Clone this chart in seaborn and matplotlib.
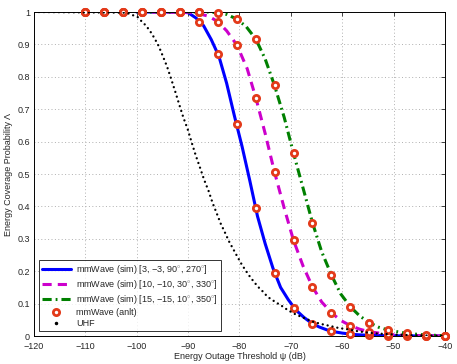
import matplotlib
matplotlib.use("Agg")
import matplotlib.pyplot as plt
import seaborn as sns
from matplotlib.lines import Line2D

# ---- data ----
blue_x = [-100, -92, -90, -88.5, -87, -85.5, -84, -82.5, -81, -79.5, -78, -76.5,
          -75, -73.5, -72, -70.5, -69, -67.5, -66, -64.5, -63, -61.5, -60, -58,
          -56, -53, -50, -45, -40]
blue_y = [1, 1, 0.998, 0.982, 0.958, 0.915, 0.863, 0.78, 0.68, 0.585, 0.48, 0.37,
          0.285, 0.21, 0.15, 0.112, 0.08, 0.058, 0.04, 0.028, 0.019, 0.013, 0.009, 0.005,
          0.003, 0.0015, 0.0007, 0.0002, 0]

mag_x = [-100, -90, -88, -86, -84.2, -82.5, -80.5, -78.5, -76.8, -75, -73.2, -71.3,
         -69.5, -67.6, -65.8, -64, -62.1, -60.3, -58.4, -56.6, -54.7, -51, -47.4,
         -43.7, -40]
mag_y = [1, 0.999, 0.995, 0.987, 0.97, 0.942, 0.898, 0.825, 0.734, 0.625, 0.507, 0.395,
         0.296, 0.215, 0.152, 0.105, 0.072, 0.048, 0.032, 0.021, 0.013, 0.005, 0.002,
         0.001, 0]

green_x = [-100, -86, -84.2, -82.4, -80.5, -78.7, -76.8, -75, -73.2, -71.3, -69.5,
           -67.6, -65.8, -64, -62.1, -60.3, -58.4, -56.6, -54.7, -52.9, -51, -47.4,
           -43.7, -40]
green_y = [1, 1, 0.998, 0.992, 0.978, 0.955, 0.916, 0.855, 0.774, 0.675, 0.565,
           0.455, 0.35, 0.26, 0.188, 0.13, 0.09, 0.062, 0.041, 0.027, 0.018, 0.008,
           0.003, 0.001]

anlt_x = [-110, -106.32, -102.63, -98.95, -95.26, -91.58, -87.89, -84.21, -80.53,
          -76.84, -73.16, -69.47, -65.79, -62.11, -58.42, -54.74, -51.05, -47.37,
          -43.68, -40]
anlt_blue = [1, 1, 1, 1, 1, 1, 0.97, 0.87, 0.655, 0.395, 0.195, 0.087, 0.037, 0.015,
             0.005, 0.002, 0.001, 0, 0, 0]
anlt_mag = [1, 1, 1, 1, 1, 1, 1.0, 0.97, 0.898, 0.734, 0.507, 0.296, 0.152, 0.072,
            0.032, 0.013, 0.005, 0.002, 0.001, 0]
anlt_green = [1, 1, 1, 1, 1, 1, 1.0, 0.998, 0.978, 0.916, 0.774, 0.565, 0.35, 0.188,
              0.09, 0.041, 0.018, 0.008, 0.003, 0.001]

uhf_x = [-120, -102, -100.73, -99.8, -98.98, -98.2, -97.36, -96.58, -95.73, -94.95,
         -94.11, -93.33, -92.5, -91.72, -90.94, -90.08, -89.3, -88.53, -87.69, -86.9,
         -86.0, -85.22, -84.44, -83.66, -82.82, -82.04, -81.21, -80.35, -79.57, -78.79,
         -77.96, -77.18, -76.34, -75.56, -74.7, -73.93, -73.09, -72.31, -71.47, -70.7,
         -69.0, -67.31, -65.69, -64.08, -62.38, -60.77, -59.07, -57.46, -55.77, -54.07,
         -52.46, -49.15, -45.84, -40]
uhf_y = [1, 0.998, 0.99, 0.984, 0.97, 0.958, 0.94, 0.92, 0.895, 0.865,
         0.832, 0.795, 0.754, 0.714, 0.675, 0.638, 0.597, 0.558, 0.52, 0.483,
         0.447, 0.41, 0.379, 0.347, 0.319, 0.292, 0.268, 0.243, 0.221, 0.202,
         0.183, 0.167, 0.151, 0.139, 0.124, 0.114, 0.106, 0.098, 0.09, 0.081,
         0.066, 0.055, 0.044, 0.037, 0.031, 0.025, 0.021, 0.016, 0.012, 0.009,
         0.007, 0.004, 0.002, 0.0005]

labels = [r"mmWave (sim) [3, $-$3, 90$^{\circ}$, 270$^{\circ}$]",
          r"mmWave (sim) [10, $-$10, 30$^{\circ}$, 330$^{\circ}$]",
          r"mmWave (sim) [15, $-$15, 10$^{\circ}$, 350$^{\circ}$]",
          "mmWave (anlt)",
          "UHF"]

sns.set_style("white")
plt.rcParams["font.family"] = ["Liberation Sans", "DejaVu Sans"]
plt.rcParams["mathtext.fontset"] = "custom"
plt.rcParams["mathtext.rm"] = "Liberation Sans"
plt.rcParams["mathtext.it"] = "Liberation Sans"
plt.rcParams["font.size"] = 6.5

fig = plt.figure(figsize=(4.57, 3.64), dpi=100)
ax = fig.add_axes([0.0744, 0.0769, 0.8993, 0.8901])

red = "#e33a1a"

sns.lineplot(x=blue_x, y=blue_y, ax=ax, color="#0000ff", lw=2.2, label=labels[0],
             estimator=None, sort=False)
sns.lineplot(x=mag_x, y=mag_y, ax=ax, color="#cc00cc", lw=2.2, label=labels[1],
             estimator=None, sort=False, linestyle=(0, (3, 2)))
sns.lineplot(x=green_x, y=green_y, ax=ax, color="#008000", lw=2.2, label=labels[2],
             estimator=None, sort=False, linestyle=(0, (3, 1.3, 0.6, 1.3)))

for i, yy in enumerate([anlt_blue, anlt_mag, anlt_green]):
    ax.plot(anlt_x, yy, "o", ms=4.5, mew=2, mec=red, mfc="white", clip_on=False,
            zorder=4, label=labels[3] if i == 0 else None)

ax.plot(uhf_x, uhf_y, color="black", lw=1.7, linestyle=(0, (0.01, 2.1)),
        dash_capstyle="round", zorder=5, label=labels[4])

ax.set_xlim(-120, -40)
ax.set_ylim(0, 1)
ax.set_xticks(range(-120, -39, 10))
ax.set_xticklabels(["\u2212%d" % abs(v) for v in range(-120, -39, 10)])
ax.set_yticks([i / 10 for i in range(11)])
ax.set_yticklabels(["0"] + ["0.%d" % i for i in range(1, 10)] + ["1"])
ax.grid(True, color="#b0b0b0", linestyle=(0, (1, 2.5)), lw=0.7)
ax.tick_params(direction="in", length=3, width=0.6, labelsize=6.5, top=True, right=True)
ax.tick_params(axis="x", pad=4)
ax.tick_params(axis="y", pad=3)
for s in ax.spines.values():
    s.set_color("black")
    s.set_linewidth(0.7)

ax.set_xlabel("Energy Outage Threshold \u03c8 (dB)", fontsize=6.5, labelpad=1)
ax.set_ylabel("Energy Coverage Probability \u039b", fontsize=6.5, labelpad=3)

handles, _ = ax.get_legend_handles_labels()
handles[4] = Line2D([], [], color="black", marker=".", ms=3, ls="none")
leg = ax.legend(handles, labels, loc="lower left", fontsize=6.5, frameon=True,
                fancybox=False, edgecolor="black", borderaxespad=0.5,
                handlelength=3.2, labelspacing=0.22, borderpad=0.35, handletextpad=0.6)
leg.get_frame().set_linewidth(0.7)

fig.savefig("out.png", dpi=100)
